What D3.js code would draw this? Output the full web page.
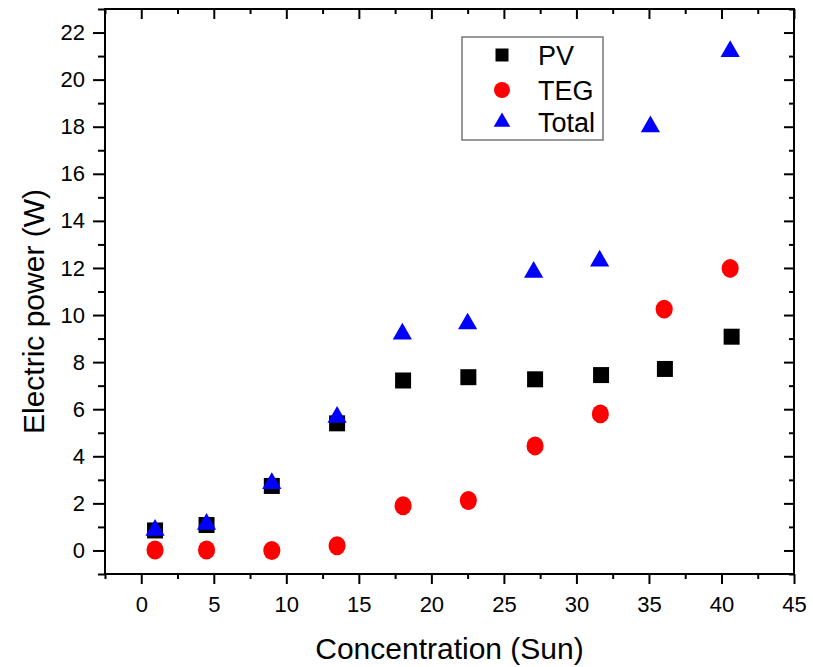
<!DOCTYPE html>
<html>
<head>
<meta charset="utf-8">
<script src="https://cdn.jsdelivr.net/npm/d3@7"></script>
<style>
  html, body { margin: 0; padding: 0; background: #fff; }
  svg { display: block; font-family: "Liberation Sans", Arial, sans-serif; }
</style>
</head>
<body>
<svg id="chart" width="813" height="667"></svg>
<script>
// Concentration (Sun) for each measurement
const pvX    = [0.95, 4.5, 9.0, 13.5, 18.05, 22.55, 27.15, 31.7, 36.1, 40.7];
const pvY    = [0.85, 1.08, 2.74, 5.40, 7.22, 7.36, 7.27, 7.45, 7.71, 9.08];
const tegX   = [0.95, 4.5, 9.0, 13.5, 18.05, 22.55, 27.15, 31.65, 36.05, 40.6];
const tegY   = [0.02, 0.02, 0.0, 0.2, 1.9, 2.12, 4.44, 5.8, 10.25, 11.98];
const totalX = [0.95, 4.5, 9.0, 13.5, 18.0, 22.5, 27.05, 31.6, 35.1, 40.6];
const totalY = [0.86, 1.12, 2.85, 5.66, 9.2, 9.63, 11.82, 12.3, 18.0, 21.2];

const xTicks = [0, 5, 10, 15, 20, 25, 30, 35, 40, 45];
const xMinor = [-2.5, 2.5, 7.5, 12.5, 17.5, 22.5, 27.5, 32.5, 37.5, 42.5];
const yTicks = [0, 2, 4, 6, 8, 10, 12, 14, 16, 18, 20, 22];
const yMinor = [-1, 1, 3, 5, 7, 9, 11, 13, 15, 17, 19, 21, 23];

const seriesNames = ["PV", "TEG", "Total"];
const seriesColors = ["#000000", "#ff0000", "#0000ff"];

const svg = d3.select("#chart");
const plotL = 105, plotR = 794, plotT = 9, plotB = 574;

const x = d3.scaleLinear().domain([-2.5, 45]).range([plotL, plotR]);
const y = d3.scaleLinear().domain([-1, 23]).range([plotB, plotT]);

// Minor ticks (unlabelled) on all four sides
const minorBottom = d3.axisBottom(x).tickValues(xMinor).tickSize(5).tickFormat("").tickSizeOuter(0);
const minorTop = d3.axisTop(x).tickValues(xMinor).tickSize(-5).tickFormat("").tickSizeOuter(0);
const minorLeft = d3.axisLeft(y).tickValues(yMinor).tickSize(7).tickFormat("").tickSizeOuter(0);
const minorRight = d3.axisRight(y).tickValues(yMinor).tickSize(-5).tickFormat("").tickSizeOuter(0);

const majorBottom = d3.axisBottom(x).tickValues(xTicks).tickSize(10).tickPadding(12).tickSizeOuter(0).tickFormat(d3.format("d"));
const majorTop = d3.axisTop(x).tickValues(xTicks).tickSize(-10).tickFormat("").tickSizeOuter(0);
const majorLeft = d3.axisLeft(y).tickValues(yTicks).tickSize(12).tickPadding(8).tickSizeOuter(0).tickFormat(d3.format("d"));
const majorRight = d3.axisRight(y).tickValues(yTicks).tickSize(-10).tickFormat("").tickSizeOuter(0);

function styleAxis(g) {
  g.select(".domain").remove();
  g.selectAll(".tick line").attr("stroke", "#000").attr("stroke-width", 2);
  g.selectAll(".tick text").attr("fill", "#000").style("font-size", "22px")
    .style("font-family", "'Liberation Sans', Arial, sans-serif");
}

svg.append("g").attr("transform", `translate(0,${plotB})`).call(minorBottom).call(styleAxis);
svg.append("g").attr("transform", `translate(0,${plotT})`).call(minorTop).call(styleAxis);
svg.append("g").attr("transform", `translate(${plotL},0)`).call(minorLeft).call(styleAxis);
svg.append("g").attr("transform", `translate(${plotR},0)`).call(minorRight).call(styleAxis);
svg.append("g").attr("transform", `translate(0,${plotB})`).call(majorBottom).call(styleAxis);
svg.append("g").attr("transform", `translate(0,${plotT})`).call(majorTop).call(styleAxis);
svg.append("g").attr("transform", `translate(${plotL},0)`).call(majorLeft).call(styleAxis);
svg.append("g").attr("transform", `translate(${plotR},0)`).call(majorRight).call(styleAxis);

// Plot frame
svg.append("rect")
  .attr("x", plotL).attr("y", plotT)
  .attr("width", plotR - plotL).attr("height", plotB - plotT)
  .attr("fill", "none").attr("stroke", "#000").attr("stroke-width", 2);

// Axis titles
svg.append("text")
  .attr("x", (plotL + plotR) / 2).attr("y", 659)
  .attr("text-anchor", "middle")
  .style("font-size", "30px").attr("fill", "#000")
  .text("Concentration (Sun)");

svg.append("text")
  .attr("transform", `translate(44,${(plotT + plotB) / 2 + 20}) rotate(-90)`)
  .attr("text-anchor", "middle")
  .style("font-size", "30px").attr("fill", "#000")
  .text("Electric power (W)");

// Marker shapes
const sq = d3.symbol().type(d3.symbolSquare).size(16 * 16);
const circ = d3.symbol().type(d3.symbolCircle).size(Math.PI * 9 * 9);
const tri = d3.symbol().type(d3.symbolTriangle).size(160);
const shapes = [sq, circ, tri];

const pts = [
  d3.zip(pvX, pvY),
  d3.zip(tegX, tegY),
  d3.zip(totalX, totalY)
];

pts.forEach((data, i) => {
  svg.append("g").selectAll("path")
    .data(data)
    .join("path")
    .attr("d", shapes[i])
    .attr("transform", d => `translate(${x(d[0])},${y(d[1])})` + (i === 1 ? " scale(0.95,1.05)" : ""))
    .attr("fill", seriesColors[i]);
});

// Legend
const lg = svg.append("g");
lg.append("rect")
  .attr("x", 462).attr("y", 37).attr("width", 141).attr("height", 103)
  .attr("fill", "#fff").attr("stroke", "#777").attr("stroke-width", 1.5);

const legendShapes = [
  d3.symbol().type(d3.symbolSquare).size(13 * 13),
  d3.symbol().type(d3.symbolCircle).size(Math.PI * 8 * 8),
  d3.symbol().type(d3.symbolTriangle).size(120)
];
const legendY = [55, 90, 122];
seriesNames.forEach((name, i) => {
  lg.append("path")
    .attr("d", legendShapes[i])
    .attr("transform", `translate(502,${legendY[i]})`)
    .attr("fill", seriesColors[i]);
  lg.append("text")
    .attr("x", 538).attr("y", legendY[i] + 9.5)
    .style("font-size", "27px").attr("fill", "#000")
    .text(name);
});
</script>
</body>
</html>
